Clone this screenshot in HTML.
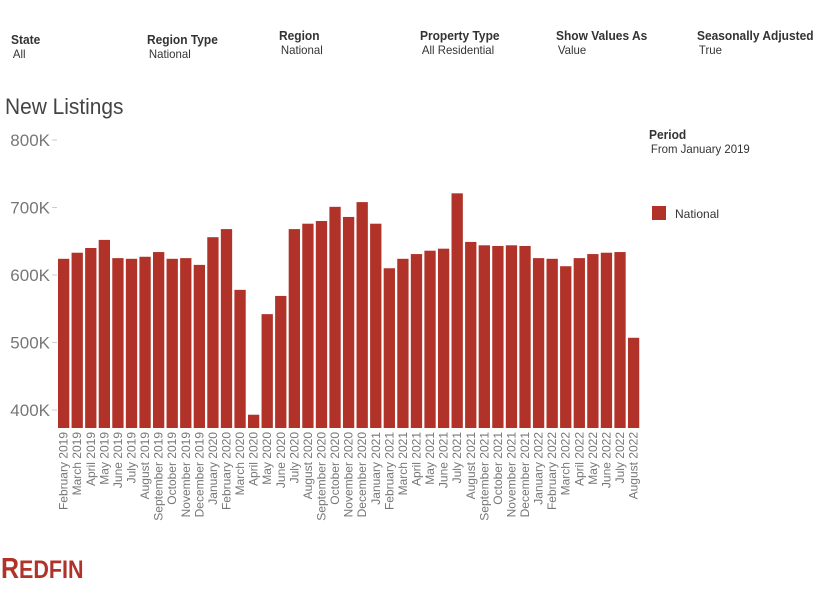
<!DOCTYPE html>
<html><head><meta charset="utf-8"><style>
body{margin:0;width:834px;height:598px;background:#fff;font-family:"Liberation Sans",sans-serif;overflow:hidden;position:relative}
.f{position:absolute;font-size:12px;color:#333}
.f b{display:block;font-size:13px;color:#333;transform:scaleX(0.92);transform-origin:left}
.f span{display:block;padding-left:2px;transform:scaleX(0.95);transform-origin:left}
</style></head><body>
<div class="f" style="left:11px;top:32px"><b>State</b><span>All</span></div>
<div class="f" style="left:147px;top:32px"><b>Region Type</b><span>National</span></div>
<div class="f" style="left:279px;top:28px"><b>Region</b><span>National</span></div>
<div class="f" style="left:420px;top:28px"><b>Property Type</b><span>All Residential</span></div>
<div class="f" style="left:556px;top:28px"><b>Show Values As</b><span>Value</span></div>
<div class="f" style="left:697px;top:28px"><b>Seasonally Adjusted</b><span>True</span></div>
<div style="position:absolute;left:5px;top:94px;font-size:22px;color:#444;transform:scaleX(0.95);transform-origin:left">New Listings</div>
<div class="f" style="left:649px;top:127px"><b>Period</b><span>From January 2019</span></div>
<div style="position:absolute;left:652px;top:206px;width:14px;height:14px;background:#b03228"></div>
<div class="f" style="left:675px;top:207px">National</div>
<div style="position:absolute;left:1px;top:553px;font-size:29px;font-weight:bold;color:#b03228;letter-spacing:0px;transform:scaleX(0.86);transform-origin:left;line-height:32px">R<span style="font-size:25px">EDFIN</span></div>
<svg id="c" width="834" height="598" style="position:absolute;left:0;top:0"></svg>
<script>
const categories=["February 2019","March 2019","April 2019","May 2019","June 2019","July 2019","August 2019","September 2019","October 2019","November 2019","December 2019","January 2020","February 2020","March 2020","April 2020","May 2020","June 2020","July 2020","August 2020","September 2020","October 2020","November 2020","December 2020","January 2021","February 2021","March 2021","April 2021","May 2021","June 2021","July 2021","August 2021","September 2021","October 2021","November 2021","December 2021","January 2022","February 2022","March 2022","April 2022","May 2022","June 2022","July 2022","August 2022"];
const values=[624,633,640,652,625,624,627,634,624,625,615,656,668,578,393,542,569,668,676,680,701,686,708,676,610,624,631,636,639,721,649,644,643,644,643,625,624,613,625,631,633,634,507];
const ticks=[400,500,600,700,800];
const tickLabels=["400K","500K","600K","700K","800K"];
const svg=document.getElementById('c');const NS="http://www.w3.org/2000/svg";
const y=v=>275-(v-600)*0.675;
const x0=58,step=13.57,bw=11.3,base=428;
function mk(t,a){const e=document.createElementNS(NS,t);for(const k in a)e.setAttribute(k,a[k]);svg.appendChild(e);return e;}
ticks.forEach((t,i)=>{
 const l=mk('line',{x1:52,x2:57,y1:y(t),y2:y(t),stroke:'#ccc'});
 
 
 const tx=mk('text',{x:50,y:y(t)+6,'text-anchor':'end','font-size':17,fill:'#777','font-family':'Liberation Sans'});
 tx.textContent=tickLabels[i];
 
 
});
values.forEach((v,i)=>{
 const x=x0+i*step;
 const r=mk('rect',{x:x,y:y(v),width:bw,height:base-y(v),fill:'#b03228'});
 
 
 const cx=x+bw/2;
 const t=mk('text',{x:0,y:0,'text-anchor':'end','font-size':12,fill:'#777','font-family':'Liberation Sans',transform:`translate(${cx+4},${base+4}) rotate(-90)`});
 t.textContent=categories[i];
 
 
});
</script>
</body></html>
